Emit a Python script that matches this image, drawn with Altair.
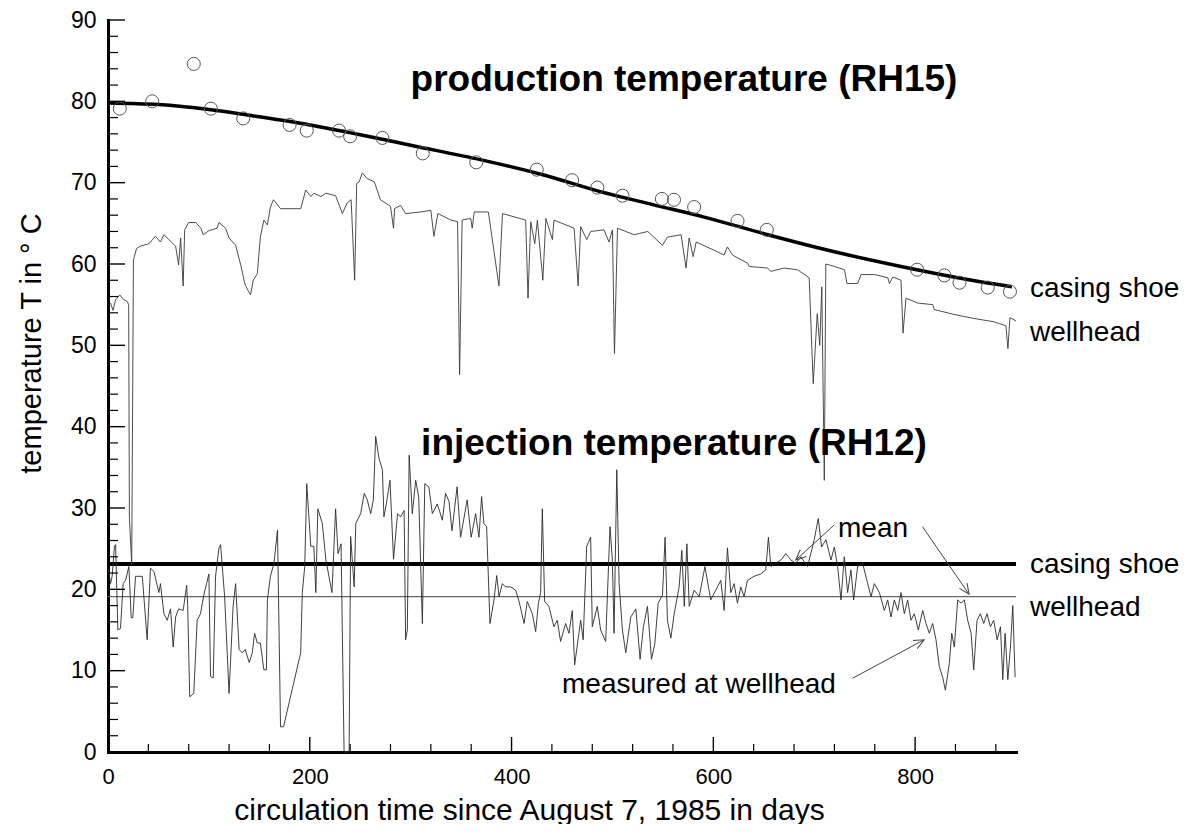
import math
import altair as alt
import pandas as pd

FONT = "Liberation Sans"
W, H = 908, 732
XMAX, YMAX = 900, 90

# ---- data: (day, temperature °C) ----
prod_wellhead = [
    (0.5, 55.0), (2.5, 55.2), (5, 54.3), (7.5, 55.6), (11.7, 56.2), (15.7, 55.6), (19, 55.4),
    (20.5, 55.0), (21.2, 28.9), (23.5, 23.0), (25.2, 60.5), (28.3, 61.9), (32, 62.2), (40.5, 62.5),
    (47, 63.4), (52, 62.7), (55.4, 63.6), (60.3, 63.0), (67, 62.2), (70, 59.9), (72, 63.2),
    (74.5, 57.3), (76, 64.2), (80, 65.1), (87, 65.1), (92, 64.4), (94.5, 63.6), (100, 64.1),
    (108, 64.4), (110, 65.1), (116.5, 64.4), (120, 63.2), (126.5, 62.3), (131.5, 59.9), (136, 57.4),
    (141.3, 56.2), (144, 58.0), (148, 58.8), (151, 63.3), (154.5, 65.4), (158, 64.8), (161, 67.0),
    (164, 67.9), (171, 66.8), (191, 66.8), (196, 69.1), (201, 68.3), (204, 68.7), (211, 68.3),
    (216, 68.7), (225.6, 68.4), (232.3, 66.2), (237, 67.5), (241, 67.9), (244.5, 58.0), (246.5, 69.9),
    (249, 70.1), (252, 71.2), (257, 70.5), (264, 70.1), (270, 67.9), (280, 67.1), (283, 64.4),
    (284, 66.8), (290, 67.2), (295, 66.2), (310, 66.4), (320, 66.6), (323, 63.4), (327, 66.2),
    (340, 65.4), (346.5, 65.2), (348.5, 46.4), (351, 65.4), (359.5, 65.6), (361, 64.4), (363, 66.4),
    (377, 66.4), (387.5, 57.3), (391, 66.2), (414, 65.4), (416.3, 55.8), (419, 65.2), (423, 62.5),
    (425.6, 65.4), (431, 58.0), (434, 65.6), (440.5, 63.0), (442, 65.4), (462, 64.4), (466, 57.3),
    (468.5, 64.6), (474.5, 63.0), (478.5, 64.0), (491.6, 64.2), (496.6, 62.7), (500, 64.2), (502, 49.0),
    (505, 64.4), (521.5, 63.6), (535, 64.0), (549.5, 62.3), (554.5, 63.3), (568, 63.6), (573, 59.5),
    (576, 63.2), (580, 60.9), (583, 62.7), (600.7, 61.7), (610.6, 61.1), (614, 62.1), (619, 61.1),
    (633.8, 60.1), (635.5, 59.7), (653.6, 59.5), (657, 59.1), (670, 59.5), (683.4, 59.3), (695, 58.3),
    (699, 45.3), (703, 53.9), (705.5, 50.0), (707.5, 57.2), (710, 33.4), (711.5, 60.0), (720, 59.7),
    (730, 59.3), (732.5, 57.6), (743, 57.6), (746.5, 58.7), (760, 58.7), (773, 58.3), (774.5, 57.6),
    (778, 58.4), (786, 58.0), (788, 51.5), (791, 55.8), (802.5, 55.2), (817.5, 55.0), (819, 54.4),
    (838.5, 53.8), (858.5, 53.3), (878, 52.9), (890, 52.4), (892, 49.6), (894, 53.4), (900, 53.0),
]

inj_wellhead = [
    (0.5, 22.5), (2.5, 20.7), (4.1, 21.6), (6.4, 25.3), (7.5, 25.5), (9.8, 15.0), (12.4, 15.2),
    (15, 20.7), (17.4, 21.1), (20.7, 22.8), (23, 16.5), (24.6, 16.5), (27.3, 21.6), (30.6, 21.6),
    (34, 21.6), (38.8, 13.8), (42.1, 22.6), (45.5, 22.2), (50.4, 19.6), (52, 20.7), (55.4, 17.0),
    (58.7, 16.2), (62, 17.6), (64.6, 12.9), (67, 16.6), (70, 17.6), (74.5, 17.4), (78, 20.5),
    (79, 17.9), (81, 6.8), (85, 7.2), (88.4, 16.2), (91.7, 17.0), (95, 19.3), (97.7, 20.7),
    (100, 21.9), (101.6, 9.3), (104.3, 9.1), (106.6, 21.6), (110, 25.1), (111.6, 25.5), (115.6, 19.1),
    (120, 7.2), (124, 17.9), (126.5, 20.7), (130, 12.6), (133, 12.2), (136, 12.6), (140, 11.0),
    (143, 12.2), (145.3, 14.6), (148, 13.4), (151, 13.4), (154.5, 10.1), (157, 10.1), (158, 18.7),
    (161, 21.6), (164.5, 23.2), (168, 27.3), (171, 3.1), (174, 3.1), (191, 12.2), (192.6, 19.6),
    (195, 22.8), (197, 33.0), (201, 25.3), (204, 25.3), (206, 19.6), (208, 29.9), (212.4, 28.1),
    (216, 23.6), (219, 21.6), (222, 19.6), (225.6, 29.9), (228, 24.4), (231, 25.6), (234, 0.0),
    (239, 0.0), (240.5, 26.5), (244, 20.3), (245.6, 28.1), (250.4, 29.3), (254, 31.8), (257, 31.0),
    (260.4, 29.3), (263, 31.0), (265.3, 38.8), (268.6, 36.1), (272, 34.7), (273.5, 28.9), (276, 30.6),
    (279.5, 33.4), (283, 23.7), (287, 29.3), (290, 28.9), (293.5, 29.7), (295, 13.8), (296.7, 15.0),
    (298.5, 36.5), (301.6, 29.3), (305, 33.4), (308, 31.3), (311.6, 15.8), (314, 33.0), (318, 32.6),
    (321.5, 29.3), (326.4, 30.5), (331.4, 28.5), (334.6, 31.8), (338, 30.8), (341, 27.2), (346, 32.6),
    (349.5, 26.4), (356, 31.0), (360, 26.4), (364.4, 29.3), (367.7, 26.4), (370.3, 31.4), (372.6, 28.1),
    (375.3, 27.7), (378.6, 15.8), (382.6, 18.7), (385.3, 21.7), (387.6, 19.1), (390.9, 20.7), (394, 20.3),
    (399, 20.3), (404, 19.9), (407.5, 18.5), (412.4, 15.8), (415.6, 18.5), (420.6, 17.0), (423.9, 14.8),
    (426.6, 18.3), (428.8, 19.6), (430.5, 29.9), (432.8, 18.5), (437, 17.9), (442, 15.4), (445.3, 16.2),
    (448.6, 13.6), (453.6, 15.8), (456.9, 14.6), (460.2, 17.4), (462.5, 10.7), (466.8, 14.6), (468.5, 16.2),
    (471, 13.8), (474.5, 25.3), (478.4, 26.4), (480, 15.4), (485, 17.9), (488.3, 15.0), (493.3, 13.6),
    (497.6, 27.7), (499.9, 23.6), (501.6, 14.6), (504.3, 34.7), (506.6, 20.7), (509.9, 15.0), (513.2, 12.2),
    (518.2, 16.6), (523.2, 17.6), (527.4, 11.4), (530.7, 15.4), (534.7, 17.9), (538.7, 11.4), (542, 13.3),
    (545.3, 18.3), (549.6, 19.3), (552.2, 26.4), (554.5, 16.2), (557.9, 14.0), (561.2, 17.0), (566.1, 20.3),
    (568.8, 24.8), (571.2, 17.9), (573.8, 25.6), (576.1, 17.9), (581, 19.9), (586, 19.1), (591.7, 22.8),
    (597.4, 18.7), (602.4, 19.9), (607.4, 21.1), (610.7, 17.4), (614, 25.1), (617.3, 19.6), (620.6, 20.7),
    (623.9, 18.3), (627.2, 20.3), (630.5, 19.1), (633.8, 21.1), (640.4, 21.6), (647, 21.9), (652, 22.4),
    (654.6, 26.4), (657, 22.8), (662, 23.2), (667, 23.6), (671.9, 24.4), (676.9, 23.6), (681.8, 23.2),
    (686.8, 24.0), (693.4, 22.8), (700, 26.1), (704, 28.7), (707.3, 25.2), (711.6, 26.1), (716.6, 23.6),
    (719.9, 25.2), (723.2, 22.8), (726.5, 18.7), (729.8, 24.0), (733.1, 19.6), (736.4, 22.4), (739.1, 18.7),
    (743, 22.8), (748, 23.2), (753, 20.7), (756.3, 19.1), (759.6, 20.7), (764.6, 19.6), (769.5, 17.4),
    (772.8, 18.7), (776.1, 16.6), (779.4, 18.7), (782.8, 17.4), (786, 19.6), (789.3, 17.0), (792.6, 18.7),
    (795.9, 16.2), (799.2, 17.0), (803.2, 15.0), (807.5, 17.4), (810.8, 15.8), (814.1, 14.6), (817.4, 15.8),
    (820.7, 13.8), (824, 10.5), (827.3, 9.2), (830, 7.6), (834, 11.0), (836.3, 14.6), (838.9, 12.9),
    (842.2, 18.7), (845.5, 18.3), (848.8, 18.7), (852.1, 16.2), (855.5, 14.6), (858.1, 10.1), (861.4, 16.2),
    (864.7, 17.0), (868, 15.8), (871.3, 17.0), (874.6, 15.4), (877.9, 16.2), (881.3, 13.8), (884.6, 15.4),
    (886.9, 8.9), (889.2, 14.6), (891.9, 8.9), (894.5, 12.9), (896.8, 18.0), (899.1, 9.2),
]

shoe_obs = [
    (11.7, 79.1), (43.8, 80.0), (85, 84.6), (102, 79.1), (134, 77.9), (180, 77.1), (197, 76.4),
    (229, 76.4), (240, 75.7), (272, 75.5), (312, 73.6), (365, 72.5), (425, 71.6), (460, 70.3),
    (485, 69.4), (510, 68.4), (549, 68.0), (561, 67.9), (581, 67.0), (624, 65.3), (653, 64.2),
    (802, 59.3), (829, 58.6), (844, 57.7), (872, 57.1), (894, 56.6),
]

shoe_fit = [
    (0, 79.8), (50, 79.6), (100, 79.0), (150, 78.1), (200, 77.1), (250, 75.9), (300, 74.6),
    (370, 72.8), (430, 71.0), (488, 68.9), (540, 67.3), (590, 65.8), (654, 63.6), (720, 61.5),
    (786, 59.7), (852, 58.1), (896, 57.2),
]

mean_levels = [23.1, 19.1]          # casing shoe, wellhead

x_major = [0, 200, 400, 600, 800]
x_minor = [d for d in range(40, 900, 40) if d % 200]
y_major = list(range(0, 100, 10))
y_minor = [v for v in range(2, 90, 2) if v % 10]

# annotation arrows (from day, from T, to day, to T)
arrows = [
    (719.7, 27.9, 681.7, 23.6),
    (807.3, 27.7, 853.5, 19.4),
    (737.9, 9.06, 808.9, 13.8),
]

# ---- chart ----
xs = alt.Scale(domain=[0, XMAX], nice=False, zero=False)
ys = alt.Scale(domain=[0, YMAX], nice=False, zero=False)

x_axis = alt.Axis(
    values=x_major, ticks=False, grid=False, domainColor="black", domainWidth=3,
    domainCap="square", labelFont=FONT, labelFontSize=22, labelColor="black",
    labelPadding=14, labelFlush=False, labelOverlap=False,
    title="circulation time since August 7, 1985 in days", titleFont=FONT,
    titleFontSize=30, titleFontWeight="normal", titleColor="black",
    titleX=421, titleY=67, titleAlign="center", titleBaseline="alphabetic",
)
y_axis = alt.Axis(
    values=y_major, ticks=False, grid=False, domainColor="black", domainWidth=3,
    domainCap="square", labelFont=FONT, labelFontSize=23, labelColor="black",
    labelPadding=12, labelFlush=False, labelOverlap=False,
    title="temperature T in ° C", titleFont=FONT, titleFontSize=29,
    titleFontWeight="normal", titleColor="black", titleAngle=270,
    titleX=-77, titleY=323, titleAlign="center", titleBaseline="middle",
)


def X(f="day"):
    return alt.X(f + ":Q", scale=xs, axis=x_axis)


def Y(f="T"):
    return alt.Y(f + ":Q", scale=ys, axis=y_axis)


def pts_df(points):
    return pd.DataFrame({"day": [p[0] for p in points], "T": [p[1] for p in points],
                         "i": list(range(len(points)))})


one = pd.DataFrame({"a": [0]})

mean_df = pd.DataFrame({"T": mean_levels, "kind": ["shoe", "wellhead"]})
mean_shoe = alt.Chart(mean_df[mean_df.kind == "shoe"]).mark_rule(
    color="black", strokeWidth=4).encode(y=Y(), x=alt.value(0), x2=alt.value(W))
mean_well = alt.Chart(mean_df[mean_df.kind == "wellhead"]).mark_rule(
    color="#666666", strokeWidth=1.2).encode(y=Y(), x=alt.value(0), x2=alt.value(W))

fit = alt.Chart(pts_df(shoe_fit)).mark_line(
    color="black", strokeWidth=3.5, interpolate="monotone").encode(
    x=X(), y=Y(), order="i:Q")

circles = alt.Chart(pts_df(shoe_obs)).mark_point(
    shape="circle", filled=False, size=170, color="#555555", strokeWidth=1,
    opacity=1).encode(x=X(), y=Y())

prod = alt.Chart(pts_df(prod_wellhead)).mark_line(
    color="#3a3a3a", strokeWidth=0.9).encode(x=X(), y=Y(), order="i:Q")
inj = alt.Chart(pts_df(inj_wellhead)).mark_line(
    color="#2a2a2a", strokeWidth=0.9).encode(x=X(), y=Y(), order="i:Q")

# inward tick marks
ytick_major = alt.Chart(pd.DataFrame({"T": y_major[1:]})).mark_rule(
    color="black", strokeWidth=1.4).encode(y=Y(), x=alt.value(0), x2=alt.value(17))
ytick_minor = alt.Chart(pd.DataFrame({"T": y_minor})).mark_rule(
    color="black", strokeWidth=1.2).encode(y=Y(), x=alt.value(0), x2=alt.value(10))
xtick_major = alt.Chart(pd.DataFrame({"day": x_major[1:]})).mark_rule(
    color="black", strokeWidth=1.4).encode(x=X(), y=alt.value(H), y2=alt.value(H - 15))
xtick_minor = alt.Chart(pd.DataFrame({"day": x_minor})).mark_rule(
    color="black", strokeWidth=1.2).encode(x=X(), y=alt.value(H), y2=alt.value(H - 8))

# arrows
px_per_day = W / XMAX
px_per_deg = H / YMAX
arr_df = pd.DataFrame({
    "day": [a[0] for a in arrows], "T": [a[1] for a in arrows],
    "day2": [a[2] for a in arrows], "T2": [a[3] for a in arrows],
})
arr_df["ang"] = [
    math.degrees(math.atan2(-(a[3] - a[1]) * px_per_deg, (a[2] - a[0]) * px_per_day)) % 360
    for a in arrows
]
arrow_lines = alt.Chart(arr_df).mark_rule(color="#444444", strokeWidth=1).encode(
    x=X(), y=Y(), x2="day2:Q", y2="T2:Q")
arrow_heads = alt.Chart(arr_df).mark_point(
    shape="M -1 -0.45 L 0 0 L -1 0.45", filled=False, size=420, color="#444444",
    strokeWidth=1, opacity=1).encode(
    x=X("day2"), y=Y("T2"), angle=alt.Angle("ang:Q", scale=None))


def label(text, x, y, size=28, weight="normal", align="left"):
    return alt.Chart(one).mark_text(
        text=text, font=FONT, fontSize=size, fontWeight=weight, color="black",
        align=align, baseline="alphabetic").encode(x=alt.value(x), y=alt.value(y))


texts = [
    label("production temperature (RH15)", 576, 70.5, 37, "bold", "center"),
    label("injection temperature (RH12)", 566, 435, 37, "bold", "center"),
    label("casing shoe", 922, 276.7),
    label("wellhead", 922, 320.7),
    label("casing shoe", 922, 553.3),
    label("wellhead", 922, 596),
    label("mean", 730, 516.7),
    label("measured at wellhead", 454, 673.3),
]

chart = alt.layer(
    mean_shoe, mean_well, fit, circles, prod, inj,
    ytick_major, ytick_minor, xtick_major, xtick_minor,
    arrow_lines, arrow_heads, *texts,
).properties(
    width=W, height=H,
    padding={"left": 100, "top": 12, "right": 164, "bottom": 72},
    autosize=alt.AutoSizeParams(type="none"),
    background="white",
).configure_view(stroke=None)

chart.save("out.html", embed_options={"renderer": "svg", "actions": False})
